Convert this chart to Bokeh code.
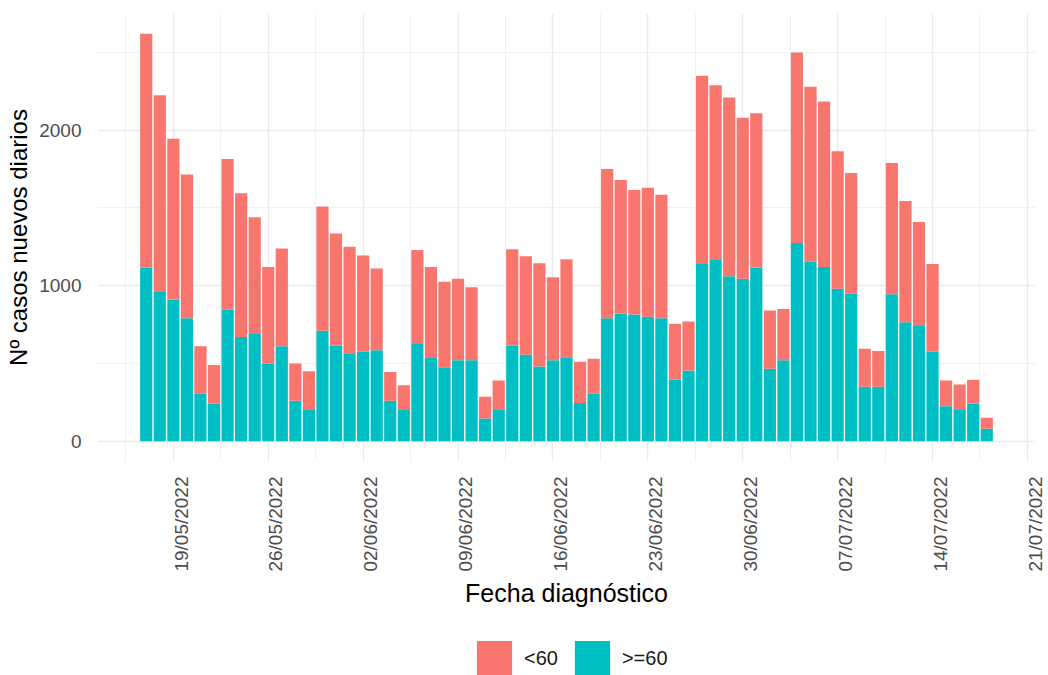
import numpy as np
import pandas as pd
from bokeh.plotting import figure
from bokeh.layouts import column
from bokeh.models import (ColumnDataSource, Range1d, FixedTicker, DatetimeTickFormatter,
                          NumeralTickFormatter, Legend, LegendItem)
from bokeh.embed import file_html
from bokeh.resources import INLINE

# ---- data ----
dates = pd.date_range("2022-05-17", "2022-07-18", freq="D")
over60 = [1115, 960, 910, 790, 305, 240, 845, 670, 690, 500, 610, 260, 200,
          710, 615, 565, 575, 585, 260, 200, 625, 535, 475, 520, 520, 145, 200,
          615, 555, 480, 520, 540, 245, 305, 790, 820, 815, 800, 790, 395, 455,
          1140, 1165, 1060, 1045, 1115, 465, 520, 1275, 1155, 1120, 980, 950, 350, 350,
          945, 765, 740, 575, 225, 200, 240, 80]
under60 = [1505, 1265, 1035, 925, 305, 250, 970, 925, 750, 620, 630, 240, 250,
           800, 720, 685, 620, 525, 185, 160, 605, 585, 550, 525, 470, 140, 190,
           620, 635, 665, 535, 630, 265, 225, 960, 860, 800, 830, 795, 360, 315,
           1210, 1125, 1150, 1035, 995, 375, 330, 1225, 1125, 1065, 885, 775, 245, 230,
           845, 780, 670, 565, 165, 165, 155, 70]
tick_dates = pd.to_datetime(["2022-05-19", "2022-05-26", "2022-06-02", "2022-06-09",
                             "2022-06-16", "2022-06-23", "2022-06-30", "2022-07-07",
                             "2022-07-14", "2022-07-21"])
y_ticks = [0, 1000, 2000]
y_minor = [500, 1500, 2500]
series_names = ["<60", ">=60"]
colors = ["#F8766D", "#00BFC4"]

DAY = 86400000.0
ms = lambda d: pd.Timestamp(d).value / 1e6

over = np.array(over60)
under = np.array(under60)
src = ColumnDataSource(dict(x=dates, zero=np.zeros(len(over)), over=over, total=over + under))

x_start = ms(dates[0]) - 0.45 * DAY
x_end = ms(dates[-1]) + 0.45 * DAY
xpad = 0.05 * (x_end - x_start)
ymax = float((over + under).max())
ypad = 0.05 * ymax

FONT = "Liberation Sans"
W = 1048
H_MAIN = 625
H_LEG = 50
LEFT = 97

p = figure(width=W, height=H_MAIN, output_backend="svg", toolbar_location=None,
           x_axis_type="datetime",
           x_range=Range1d(x_start - xpad, x_end + xpad),
           y_range=Range1d(-ypad, ymax + ypad),
           min_border_left=LEFT, min_border_right=13, min_border_top=13, min_border_bottom=164)
p.outline_line_color = None
p.background_fill_color = "white"
p.border_fill_color = "white"

r_over = p.vbar(x="x", bottom="zero", top="over", width=0.9 * DAY, source=src,
                fill_color=colors[1], line_color=None)
r_under = p.vbar(x="x", bottom="over", top="total", width=0.9 * DAY, source=src,
                 fill_color=colors[0], line_color=None)

tick_ms = [ms(d) for d in tick_dates]
minor_ms = [t - 3.5 * DAY for t in tick_ms]
# gridlines sit on the dates; the (tick-less) axis labels sit slightly to the right, as in the reference
p.xgrid.ticker = FixedTicker(ticks=tick_ms, minor_ticks=minor_ms)
label_shift = 0.57 * DAY
p.xaxis.ticker = FixedTicker(ticks=[t + label_shift for t in tick_ms], minor_ticks=[])
fmt = "%d/%m/%Y"
p.xaxis.formatter = DatetimeTickFormatter(milliseconds=fmt, seconds=fmt, minsec=fmt, minutes=fmt,
                                          hourmin=fmt, hours=fmt, days=fmt, months=fmt, years=fmt)
p.yaxis.ticker = FixedTicker(ticks=y_ticks, minor_ticks=y_minor)
p.ygrid.ticker = FixedTicker(ticks=y_ticks, minor_ticks=y_minor)
p.yaxis.formatter = NumeralTickFormatter(format="0")

for ax in (p.xaxis, p.yaxis):
    ax.axis_line_color = None
    ax.major_tick_line_color = None
    ax.minor_tick_line_color = None
    ax.major_label_text_font = FONT
    ax.major_label_text_font_size = "19px"
    ax.major_label_text_color = "#4D4D4D"
    ax.axis_label_text_font = FONT
    ax.axis_label_text_font_style = "normal"
    ax.axis_label_text_color = "#000000"

p.xaxis.axis_label = "Fecha diagnóstico"
p.yaxis.axis_label = "Nº casos nuevos diarios"
p.xaxis.axis_label_text_font_size = "25px"
p.yaxis.axis_label_text_font_size = "24px"
p.xaxis.major_label_orientation = np.pi / 2
p.xaxis.major_label_standoff = 9
p.xaxis.axis_label_standoff = 4
p.yaxis.major_label_standoff = 10
p.yaxis.axis_label_standoff = 4

for g in (p.xgrid, p.ygrid):
    g.grid_line_color = "#EBEBEB"
    g.grid_line_width = 1.4
    g.minor_grid_line_color = "#EBEBEB"
    g.minor_grid_line_width = 0.7

# ---- legend strip (separate figure so nothing is clipped) ----
leg = figure(width=W, height=H_LEG, output_backend="svg", toolbar_location=None,
             x_range=Range1d(0, 1), y_range=Range1d(0, 1),
             x_axis_location=None, y_axis_location=None,
             min_border=0, outline_line_color=None)
leg.grid.visible = False
# legend proxies: one hidden row each, outside the visible range
proxy = ColumnDataSource(dict(x=[-5.0], top=[-5.0]))
l_under = leg.vbar(x="x", top="top", width=1, source=proxy, fill_color=colors[0], line_color=None)
l_over = leg.vbar(x="x", top="top", width=1, source=proxy, fill_color=colors[1], line_color=None)
legend = Legend(items=[LegendItem(label=series_names[0], renderers=[l_under]),
                       LegendItem(label=series_names[1], renderers=[l_over])],
                orientation="horizontal", location=(472 - LEFT, -5),
                glyph_width=44, glyph_height=44, label_standoff=8, spacing=12,
                padding=0, margin=0, border_line_color=None, background_fill_alpha=0,
                label_text_font=FONT, label_text_font_size="20px", label_text_color="#1A1A1A")
leg.add_layout(legend, "center")

layout = column(p, leg, spacing=0)
open("out.html", "w").write(file_html(layout, INLINE))
